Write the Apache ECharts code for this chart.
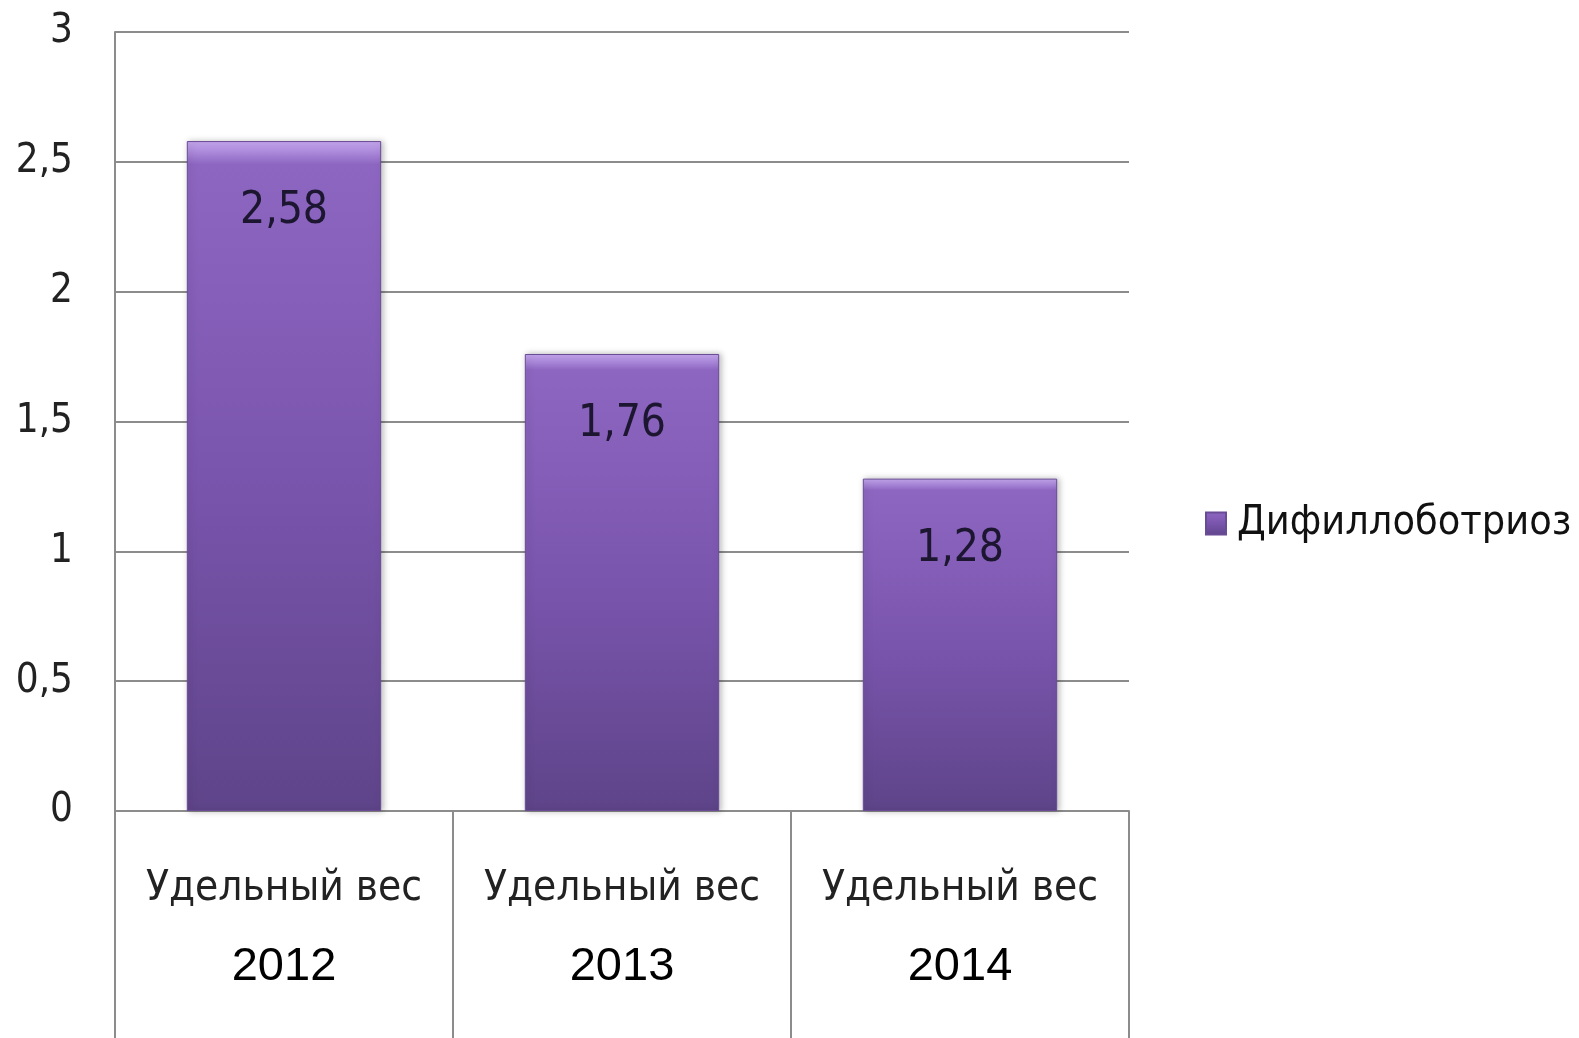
<!DOCTYPE html>
<html>
<head>
<meta charset="utf-8">
<script src="https://cdn.jsdelivr.net/npm/echarts@6/dist/echarts.min.js"></script>
<style>
  html, body { margin: 0; padding: 0; background: #fff; }
  #chart { width: 1579px; height: 1038px; }
</style>
</head>
<body>
<div id="chart"></div>
<script>
// данные графика
const seriesName = 'Дифиллоботриоз'
const labelPrefix = 'Удельный вес'
const years = ['2012', '2013', '2014']
const values = [2.58, 1.76, 1.28]
const yTicks = { min: 0, max: 3, interval: 0.5 }

const narrow = '"Liberation Sans Narrow", "DejaVu Sans Condensed", "Liberation Sans", sans-serif'
const comma = v => String(v).replace('.', ',')

const chart = echarts.init(document.getElementById('chart'))

const option = {
  animation: false,
  backgroundColor: '#fff',
  grid: { left: 115, right: 450, top: 32, bottom: 227 },
  legend: {
    data: [seriesName],
    left: 1200,
    top: 498,
    icon: 'rect',
    itemWidth: 20,
    itemHeight: 22,
    itemGap: 10,
    textStyle: { fontFamily: narrow, fontSize: 41, color: '#111', padding: [0, 0, 0, 6] }
  },
  xAxis: {
    type: 'category',
    data: years,
    axisLine: { show: true, lineStyle: { color: '#8c8c8c', width: 2 } },
    axisTick: {
      show: true,
      interval: 0,
      length: 230,
      lineStyle: { color: '#8c8c8c', width: 2 }
    },
    axisLabel: {
      margin: 39,
      interval: 0,
      formatter: y => '{a|' + labelPrefix + '}\n{b|' + y + '}',
      rich: {
        a: { fontFamily: narrow, fontSize: 42, lineHeight: 78, color: '#222' },
        b: { fontFamily: '"Liberation Sans", Arial, sans-serif', fontSize: 47, lineHeight: 78, color: '#000' }
      }
    }
  },
  yAxis: {
    type: 'value',
    min: yTicks.min,
    max: yTicks.max,
    interval: yTicks.interval,
    axisLine: { show: true, lineStyle: { color: '#8c8c8c', width: 2 } },
    axisTick: { show: false },
    splitLine: { lineStyle: { color: '#8c8c8c', width: 2 } },
    axisLabel: {
      margin: 42,
      fontFamily: narrow,
      fontSize: 40,
      color: '#222',
      formatter: v => comma(v)
    }
  },
  series: [
    {
      name: seriesName,
      type: 'bar',
      data: values,
      barWidth: '57.5%',
      itemStyle: {
        color: new echarts.graphic.LinearGradient(0, 0, 0, 1, [
          { offset: 0, color: '#c6a8f0' },
          { offset: 0.035, color: '#8d66c1' },
          { offset: 0.5, color: '#7a55ad' },
          { offset: 1, color: '#5e4489' }
        ]),
        borderColor: '#6a4b96',
        borderWidth: 1,
        shadowColor: 'rgba(0,0,0,0.25)',
        shadowBlur: 6,
        shadowOffsetX: 2
      },
      label: {
        show: true,
        position: 'insideTop',
        distance: 49,
        fontFamily: narrow,
        fontSize: 44,
        color: '#1c1630',
        formatter: p => comma(p.value)
      }
    }
  ]
}

chart.setOption(option)
</script>
</body>
</html>
